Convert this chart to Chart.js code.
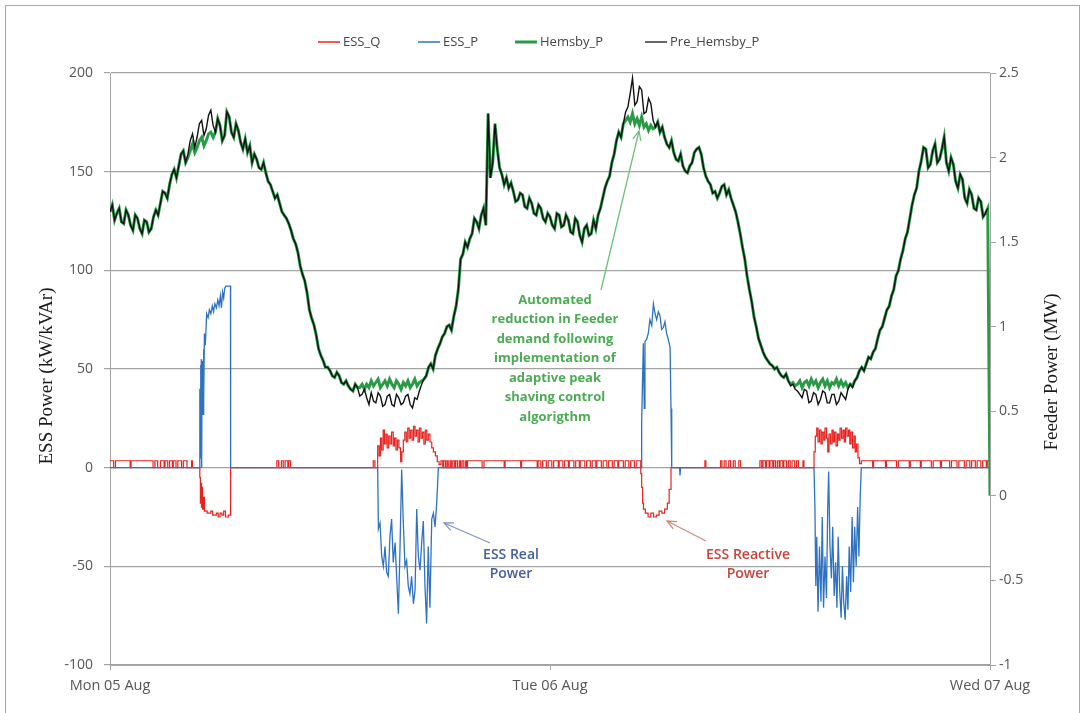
<!DOCTYPE html>
<html><head><meta charset="utf-8">
<script src="https://cdn.jsdelivr.net/npm/chart.js@4.4.1/dist/chart.umd.min.js"></script>
<style>
html,body{margin:0;padding:0;background:#fff;}
#wrap{position:relative;width:1084px;height:713px;overflow:hidden;background:#fff;}
#frame{position:absolute;left:5px;top:5px;width:1073px;height:760px;border:1px solid #a8a8a8;}
canvas{position:absolute;left:0;top:0;}
</style></head><body>
<div id="wrap"><div id="frame"></div><canvas id="c" width="1084" height="713"></canvas></div>
<script>
// ---------- DATA ----------
const STEP_H = 0.125; // sample interval of feeder data (hours)
const xTickHours = [0, 24, 48];
const xTickLabels = ['Mon 05 Aug', 'Tue 06 Aug', 'Wed 07 Aug'];
const seriesNames = ['ESS_Q', 'ESS_P', 'Hemsby_P', 'Pre_Hemsby_P'];

// Feeder power before peak shaving (MW), one value per 0.125 h (16 per row = 2 h)
const preHemsbyP = [
  1.68,1.72,1.63,1.67,1.70,1.62,1.61,1.69,1.66,1.60,1.57,1.66,1.64,1.58,1.55,1.63,
  1.62,1.56,1.58,1.65,1.69,1.66,1.73,1.80,1.79,1.76,1.84,1.90,1.93,1.88,1.95,2.02,
  2.04,1.97,2.02,2.10,2.14,2.06,2.12,2.20,2.22,2.13,2.17,2.25,2.28,2.19,2.15,2.23,
  2.19,2.10,2.13,2.27,2.24,2.15,2.12,2.20,2.16,2.09,2.05,2.11,2.03,2.07,1.97,2.02,
  1.99,1.94,1.93,1.97,1.91,1.86,1.84,1.80,1.76,1.78,1.73,1.68,1.66,1.64,1.61,1.57,
  1.52,1.49,1.44,1.36,1.31,1.27,1.20,1.10,1.05,1.01,0.95,0.87,0.83,0.80,0.76,0.76,
  0.74,0.71,0.70,0.73,0.71,0.67,0.66,0.68,0.65,0.63,0.62,0.66,0.64,0.59,0.60,0.63,
  0.58,0.54,0.61,0.56,0.55,0.61,0.59,0.53,0.54,0.59,0.60,0.54,0.53,0.60,0.58,0.54,
  0.55,0.59,0.60,0.54,0.52,0.58,0.57,0.62,0.66,0.69,0.71,0.76,0.78,0.75,0.83,0.87,
  0.90,0.94,0.96,1.00,1.01,0.98,1.06,1.12,1.22,1.40,1.43,1.50,1.47,1.52,1.55,1.64,
  1.62,1.58,1.66,1.70,1.60,2.26,1.88,1.97,2.20,2.05,1.94,1.90,1.84,1.88,1.82,1.85,
  1.80,1.74,1.75,1.79,1.78,1.71,1.70,1.76,1.73,1.67,1.66,1.72,1.70,1.64,1.62,1.67,
  1.65,1.60,1.58,1.67,1.66,1.59,1.60,1.66,1.63,1.56,1.55,1.64,1.62,1.54,1.50,1.58,
  1.60,1.54,1.55,1.63,1.58,1.66,1.70,1.76,1.82,1.86,1.89,1.97,2.02,2.10,2.15,2.12,
  2.20,2.27,2.30,2.38,2.47,2.31,2.33,2.42,2.40,2.26,2.27,2.35,2.32,2.22,2.18,2.21,
  2.15,2.18,2.12,2.08,2.06,2.10,2.03,1.99,1.98,2.02,1.95,1.92,1.91,1.95,1.97,2.03,
  2.05,2.06,2.02,1.94,1.89,1.86,1.84,1.79,1.80,1.76,1.79,1.83,1.84,1.78,1.81,1.76,
  1.72,1.68,1.62,1.55,1.47,1.40,1.30,1.22,1.15,1.06,1.00,0.93,0.89,0.85,0.82,0.80,
  0.78,0.77,0.75,0.76,0.73,0.71,0.70,0.72,0.68,0.65,0.66,0.63,0.62,0.60,0.58,0.63,
  0.62,0.55,0.56,0.61,0.60,0.54,0.57,0.62,0.61,0.55,0.55,0.60,0.60,0.54,0.56,0.61,
  0.59,0.57,0.63,0.66,0.64,0.68,0.70,0.74,0.76,0.74,0.78,0.82,0.81,0.85,0.87,0.93,
  0.98,1.00,1.05,1.10,1.12,1.18,1.22,1.30,1.33,1.40,1.45,1.52,1.56,1.64,1.72,1.78,
  1.82,1.92,1.98,2.06,2.05,1.94,1.96,2.04,2.08,1.97,1.99,2.05,2.12,1.97,1.92,2.00,
  1.96,1.86,1.82,1.90,1.87,1.76,1.73,1.81,1.78,1.70,1.69,1.76,1.74,1.65,1.67,1.70,
  null
];
// Feeder power with ESS operating (MW)
const hemsbyP = [
  1.68,1.72,1.63,1.67,1.70,1.62,1.61,1.69,1.66,1.60,1.57,1.66,1.64,1.58,1.55,1.63,
  1.62,1.56,1.58,1.65,1.69,1.66,1.73,1.80,1.79,1.76,1.84,1.90,1.93,1.88,1.95,2.02,
  2.04,1.97,2.00,2.04,2.08,2.03,2.06,2.10,2.12,2.07,2.10,2.14,2.15,2.12,2.15,2.23,
  2.19,2.10,2.13,2.27,2.24,2.15,2.12,2.20,2.16,2.09,2.05,2.11,2.03,2.07,1.97,2.02,
  1.99,1.94,1.93,1.97,1.91,1.86,1.84,1.80,1.76,1.78,1.73,1.68,1.66,1.64,1.61,1.57,
  1.52,1.49,1.44,1.36,1.31,1.27,1.20,1.10,1.05,1.01,0.95,0.87,0.83,0.80,0.76,0.76,
  0.74,0.71,0.70,0.73,0.71,0.67,0.66,0.68,0.65,0.63,0.62,0.66,0.64,0.64,0.66,0.63,
  0.66,0.64,0.68,0.65,0.67,0.69,0.64,0.66,0.68,0.65,0.69,0.66,0.64,0.68,0.66,0.63,
  0.67,0.65,0.68,0.64,0.66,0.69,0.65,0.67,0.68,0.69,0.71,0.76,0.78,0.75,0.83,0.87,
  0.90,0.94,0.96,1.00,1.01,0.98,1.06,1.12,1.22,1.40,1.43,1.50,1.47,1.52,1.55,1.64,
  1.62,1.58,1.66,1.70,1.60,2.26,1.88,1.97,2.20,2.05,1.94,1.90,1.84,1.88,1.82,1.85,
  1.80,1.74,1.75,1.79,1.78,1.71,1.70,1.76,1.73,1.67,1.66,1.72,1.70,1.64,1.62,1.67,
  1.65,1.60,1.58,1.67,1.66,1.59,1.60,1.66,1.63,1.56,1.55,1.64,1.62,1.54,1.50,1.58,
  1.60,1.54,1.55,1.63,1.58,1.66,1.70,1.76,1.82,1.86,1.89,1.97,2.02,2.10,2.15,2.12,
  2.20,2.22,2.24,2.21,2.26,2.20,2.23,2.19,2.24,2.18,2.20,2.16,2.19,2.17,2.18,2.21,
  2.15,2.18,2.12,2.08,2.06,2.10,2.03,1.99,1.98,2.02,1.95,1.92,1.91,1.95,1.97,2.03,
  2.05,2.06,2.02,1.94,1.89,1.86,1.84,1.79,1.80,1.76,1.79,1.83,1.84,1.78,1.81,1.76,
  1.72,1.68,1.62,1.55,1.47,1.40,1.30,1.22,1.15,1.06,1.00,0.93,0.89,0.85,0.82,0.80,
  0.78,0.77,0.75,0.76,0.73,0.71,0.70,0.72,0.68,0.66,0.67,0.65,0.66,0.68,0.64,0.67,
  0.68,0.65,0.69,0.66,0.68,0.64,0.67,0.69,0.65,0.68,0.64,0.67,0.66,0.69,0.65,0.68,
  0.65,0.67,0.64,0.66,0.65,0.68,0.70,0.74,0.76,0.74,0.78,0.82,0.81,0.85,0.87,0.93,
  0.98,1.00,1.05,1.10,1.12,1.18,1.22,1.30,1.33,1.40,1.45,1.52,1.56,1.64,1.72,1.78,
  1.82,1.92,1.98,2.06,2.05,1.94,1.96,2.04,2.08,1.97,1.99,2.05,2.12,1.97,1.92,2.00,
  1.96,1.86,1.82,1.90,1.87,1.76,1.73,1.81,1.78,1.70,1.69,1.76,1.74,1.65,1.67,1.70,
  0
];

// ESS reactive power (kVAr), value held from each time until the next
const essQHours = [
  0,0.2,0.3,1.1,1.15,2.35,2.45,2.6,2.75,2.95,3.0,3.15,3.25,3.4,3.45,3.6,3.7,3.9,4.0,4.2,4.45,4.5,
  4.9,4.93,4.96,4.99,5.02,5.05,5.1,5.15,5.3,5.5,5.6,5.8,5.9,6.0,6.1,6.2,6.3,6.45,6.58,
  9.1,9.2,9.35,9.45,9.55,9.7,9.75,9.85,14.36,14.45,
  14.6,14.68,14.75,14.82,14.9,14.97,15.05,15.12,15.2,15.28,15.36,15.45,15.52,15.6,15.68,15.76,15.85,15.92,
  16.0,16.08,16.16,16.24,16.32,16.4,16.48,16.56,16.64,16.72,16.8,16.88,16.96,17.04,17.12,17.2,17.28,17.36,17.45,17.55,17.64,17.75,17.85,17.95,
  18.05,18.15,18.2,18.3,18.38,18.45,18.55,18.62,18.7,18.8,18.85,18.95,19.05,19.12,19.2,19.3,19.4,19.45,19.5,20.3,20.4,21.5,21.55,22.4,22.45,23.3,23.35,23.5,
  23.6,23.8,23.9,24.1,24.2,24.45,24.5,24.7,24.8,25.0,25.05,25.3,25.4,25.6,25.65,25.9,26.0,26.2,26.3,26.5,26.55,26.8,26.9,27.1,27.2,27.4,27.5,27.7,27.75,28.0,28.1,28.3,28.4,28.6,28.7,
  28.95,29.0,29.05,29.1,29.2,29.35,29.5,29.65,29.8,29.95,30.1,30.25,30.4,30.5,30.6,
  32.45,32.5,33.3,33.38,33.5,33.6,33.75,33.85,34.0,34.1,34.3,34.4,
  35.45,35.55,35.62,35.75,35.8,35.95,36.0,36.15,36.2,36.3,36.4,36.5,36.55,36.7,36.75,36.9,37.0,37.1,37.2,37.35,37.45,37.55,37.8,37.85,
  38.4,38.47,38.55,38.62,38.7,38.78,38.85,38.93,39.0,39.08,39.15,39.22,39.3,39.38,39.45,39.52,39.6,39.68,39.75,39.82,39.9,39.98,
  40.05,40.12,40.2,40.28,40.35,40.42,40.5,40.58,40.65,40.72,40.8,40.88,
  40.98,41.6,41.65,42.3,42.35,42.9,43.0,43.6,43.65,44.2,44.25,44.8,44.9,45.3,45.35,45.8,45.9,46.2,46.3,46.6,46.7,46.9,47.0,47.2,47.3,47.5,47.6,47.8,47.85,48
];
const essQ = [
  3.5,0,3.5,0,3.5,0,3.5,0,3.5,0,3.5,0,3.5,0,3.5,0,3.5,0,3.5,0,3.5,0,
  -5,-18,-8,-20,-10,-21,-15,-22,-23,-22,-24,-23,-25,-23,-24,-22,-25,-24,0,
  3.5,0,3.5,0,3.5,0,3.5,0,3.5,0,
  11,6,15,9,19,12,17,10,16,12,18,11,15,9,14,10,3,8,
  14,18,13,20,15,19,14,21,16,19,13,20,15,18,12,19,14,17,13,10,8,6,3,1.5,
  3.5,0,3.5,0,3.5,0,3.5,0,3.5,0,3.5,0,3.5,0,3.5,0,3.5,0,3.5,0,3.5,0,3.5,0,3.5,0,3.5,0,
  3.5,0,3.5,0,3.5,0,3.5,0,3.5,0,3.5,0,3.5,0,3.5,0,3.5,0,3.5,0,3.5,0,3.5,0,3.5,0,3.5,0,3.5,0,3.5,0,3.5,0,3.5,
  -3,-10,-18,-21,-23,-25,-23,-25,-24,-22,-23,-21,-18,-11,0,
  3.5,0,3.5,0,3.5,0,3.5,0,3.5,0,3.5,0,
  3.5,0,3.5,0,3.5,0,3.5,0,3.5,0,3.5,0,3.5,0,3.5,0,3.5,0,3.5,0,3.5,0,3.5,0,
  8,16,20,13,19,12,18,14,20,15,8,17,12,19,13,18,11,17,14,20,15,19,
  13,20,16,19,12,18,10,16,8,12,5,2,
  3.5,0,3.5,0,3.5,0,3.5,0,3.5,0,3.5,0,3.5,0,3.5,0,3.5,0,3.5,0,3.5,0,3.5,0,3.5,0,3.5,0,3.5,3.5
];

// ESS real power (kW)
const essPHours = [
  0,4.88,4.9,4.92,4.94,4.96,4.98,5.0,5.02,5.04,5.06,5.08,5.1,5.12,5.15,5.2,5.27,5.35,5.42,5.5,5.58,5.65,5.72,5.8,5.88,5.95,6.02,6.08,6.14,6.2,6.26,6.32,6.57,6.58,
  14.6,14.64,14.73,14.82,14.91,15.0,15.09,15.18,15.27,15.36,15.45,15.55,15.64,15.73,15.82,15.91,16.0,16.09,16.18,16.27,16.36,16.45,16.55,16.64,16.73,16.82,16.91,17.0,17.09,17.18,17.27,17.36,17.45,17.55,17.64,17.73,17.82,17.91,
  28.98,29.0,29.09,29.14,29.18,29.27,29.36,29.45,29.55,29.64,29.73,29.82,29.91,30.0,30.09,30.18,30.27,30.36,30.45,30.55,30.6,30.64,
  31.07,31.09,31.12,
  38.4,38.45,38.5,38.55,38.62,38.7,38.78,38.85,38.92,39.0,39.08,39.15,39.2,39.27,39.35,39.42,39.5,39.58,39.65,39.72,39.8,39.88,39.95,40.02,40.1,40.18,40.25,40.32,40.4,40.48,40.55,40.62,40.7,40.78,40.85,40.92,40.98,48
];
const essP = [
  0,0,40,5,52,28,55,0,50,30,54,27,60,35,68,62,78,76,80,78,82,79,83,81,85,82,87,81,89,86,91,92,92,0,
  0,-31,-28,-45,-50,-40,-53,-55,-35,-26,-48,-38,-56,-74,-40,-1,-28,-50,-47,-60,-64,-55,-69,-62,-21,-45,-52,-38,-27,-60,-79,-40,-71,-26,-23,-30,-18,0,
  0,23,63,30,64,65,68,75,72,83,78,75,79,77,70,71,74,68,65,61,30,0,
  0,-4,0,
  0,-20,-60,-35,-73,-40,-68,-25,-71,-45,-66,-20,-2,-40,-56,-30,-65,-48,-71,-35,-62,-76,-50,-68,-77,-55,-72,-40,-63,-25,-58,-30,-50,-20,-45,-15,0,0
];

// annotation texts
const noteGreen = ['Automated', 'reduction in Feeder', 'demand following', 'implementation of', 'adaptive peak', 'shaving control', 'algorigthm'];
const noteBlue = ['ESS Real', 'Power'];
const noteRed = ['ESS Reactive', 'Power'];

// ---------- BUILD ----------
const pairs = (xs, ys) => xs.map((x, i) => ({ x: x, y: ys[i] }));
const sampled = arr => arr.map((v, i) => ({ x: i * STEP_H, y: v }));

const COLORS = { q: '#e8231f', p: '#2f72c2', h: '#2b9a47', pre: '#111111' };

function arrow(ctx, x1, y1, x2, y2, color) {
  ctx.save();
  ctx.strokeStyle = color; ctx.lineWidth = 1.3;
  ctx.beginPath(); ctx.moveTo(x1, y1); ctx.lineTo(x2, y2); ctx.stroke();
  const a = Math.atan2(y2 - y1, x2 - x1), L = 10, w = 0.42;
  ctx.beginPath();
  ctx.moveTo(x2 - L * Math.cos(a - w), y2 - L * Math.sin(a - w));
  ctx.lineTo(x2, y2);
  ctx.lineTo(x2 - L * Math.cos(a + w), y2 - L * Math.sin(a + w));
  ctx.stroke();
  ctx.restore();
}

const overlay = {
  id: 'overlay',
  afterDraw(chart) {
    const ctx = chart.ctx;
    ctx.save();
    // legend
    const legX = [318, 418, 515, 645];
    const legCol = [COLORS.q, COLORS.p, COLORS.h, '#333'];
    const legW = [1.5, 1.5, 3, 1.5];
    ctx.font = '13px "Open Sans"';
    ctx.textBaseline = 'middle';
    ctx.textAlign = 'left';
    seriesNames.forEach((n, i) => {
      ctx.strokeStyle = legCol[i]; ctx.lineWidth = legW[i];
      ctx.beginPath(); ctx.moveTo(legX[i], 42); ctx.lineTo(legX[i] + 22, 42); ctx.stroke();
      ctx.fillStyle = '#444';
      ctx.fillText(n, legX[i] + 25, 42);
    });
    // axis titles
    ctx.fillStyle = '#1a1a1a';
    ctx.font = '19px "Liberation Serif"';
    ctx.textAlign = 'center';
    ctx.save(); ctx.translate(47, 376); ctx.rotate(-Math.PI / 2);
    ctx.fillText('ESS Power (kW/kVAr)', 0, 0); ctx.restore();
    ctx.save(); ctx.translate(1052, 372); ctx.rotate(-Math.PI / 2);
    ctx.fillText('Feeder Power (MW)', 0, 0); ctx.restore();
    // green note
    ctx.font = '700 13px "Open Sans"';
    ctx.fillStyle = '#4dab55';
    const gy = [300, 319, 339, 358, 378, 397, 417];
    noteGreen.forEach((t, i) => ctx.fillText(t, 555, gy[i]));
    arrow(ctx, 601, 290, 639, 131, '#6fc07c');
    // blue note
    ctx.font = '600 14px "Open Sans"';
    ctx.fillStyle = '#44609c';
    ctx.fillText(noteBlue[0], 511, 555); ctx.fillText(noteBlue[1], 511, 574);
    arrow(ctx, 490, 543, 444, 523, '#8196c0');
    // red note
    ctx.fillStyle = '#c6453c';
    ctx.fillText(noteRed[0], 748, 555); ctx.fillText(noteRed[1], 748, 574);
    arrow(ctx, 706, 541, 667, 521, '#cc8a84');
    ctx.restore();
  }
};

const tickFont = { family: '"Open Sans"', size: 14 };
const tickColor = '#555';
const gridCol = '#a3a3a3';

new Chart(document.getElementById('c'), {
  type: 'line',
  data: {
    datasets: [
      { label: seriesNames[0], data: pairs(essQHours, essQ), yAxisID: 'y', borderColor: COLORS.q, borderWidth: 1.2, stepped: true, pointRadius: 0, order: 4 },
      { label: seriesNames[1], data: pairs(essPHours, essP), yAxisID: 'y', borderColor: COLORS.p, borderWidth: 1.3, pointRadius: 0, order: 3 },
      { label: seriesNames[2], data: sampled(hemsbyP), yAxisID: 'y2', borderColor: COLORS.h, borderWidth: 3, pointRadius: 0, order: 2 },
      { label: seriesNames[3], data: sampled(preHemsbyP), yAxisID: 'y2', borderColor: COLORS.pre, borderWidth: 1.4, pointRadius: 0, order: 1 }
    ]
  },
  options: {
    responsive: false,
    animation: false,
    devicePixelRatio: 1,
    layout: { padding: { top: 73, left: 0, right: 0, bottom: 0 } },
    plugins: { legend: { display: false }, tooltip: { enabled: false } },
    elements: { line: { tension: 0 } },
    scales: {
      x: {
        type: 'linear', min: 0, max: 48,
        afterBuildTicks: s => { s.ticks = xTickHours.map(v => ({ value: v })); },
        afterFit: s => { s.height = 48; },
        ticks: { autoSkip: false, maxRotation: 0, font: { family: '"Open Sans"', size: 14.5 }, color: tickColor, padding: 7,
          callback: v => xTickLabels[xTickHours.indexOf(v)] },
        grid: { drawOnChartArea: false, drawTicks: true, tickLength: 5, color: gridCol },
        border: { color: gridCol }
      },
      y: {
        position: 'left', min: -100, max: 200,
        afterFit: s => { s.width = 110; },
        ticks: { stepSize: 50, font: tickFont, color: tickColor, padding: 11 },
        grid: { color: gridCol, lineWidth: 1.2, tickLength: 6 },
        border: { color: gridCol }
      },
      y2: {
        position: 'right', min: -1, max: 2.5,
        afterFit: s => { s.width = 94; },
        ticks: { stepSize: 0.5, font: tickFont, color: tickColor, padding: 3,
          callback: v => String(Number(v.toFixed(2))) },
        grid: { drawOnChartArea: false, tickLength: 6, color: gridCol },
        border: { color: gridCol }
      }
    }
  },
  plugins: [overlay]
});
</script>
</body></html>
